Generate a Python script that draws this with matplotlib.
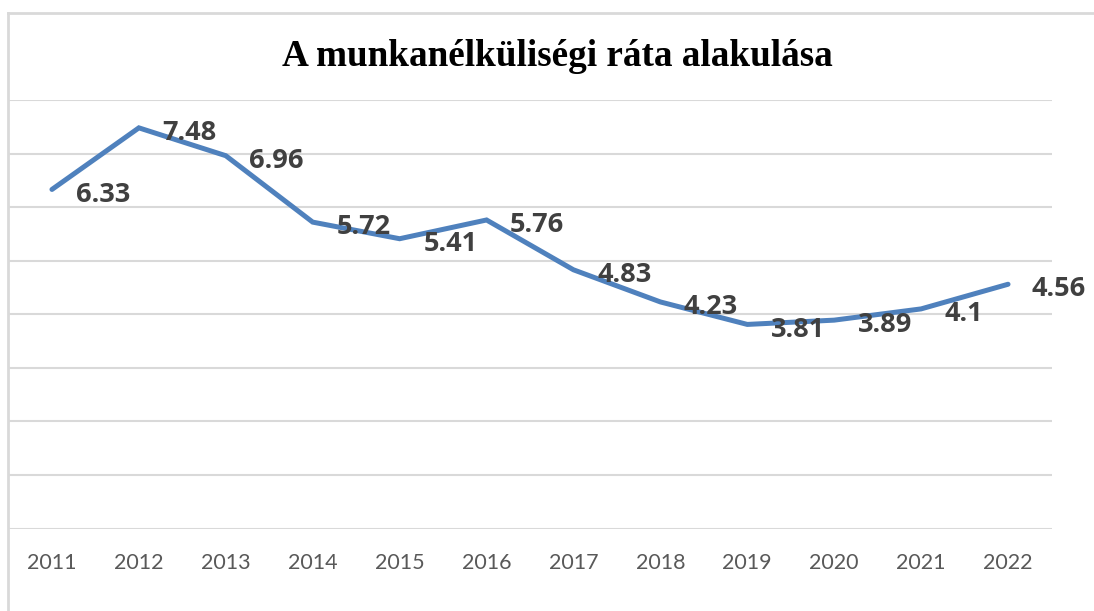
import matplotlib.pyplot as plt
from matplotlib.lines import Line2D

years = ["2011", "2012", "2013", "2014", "2015", "2016",
         "2017", "2018", "2019", "2020", "2021", "2022"]
rate = [6.33, 7.48, 6.96, 5.72, 5.41, 5.76, 4.83, 4.23, 3.81, 3.89, 4.1, 4.56]
labels = ["6.33", "7.48", "6.96", "5.72", "5.41", "5.76",
          "4.83", "4.23", "3.81", "3.89", "4.1", "4.56"]

W, H = 1094, 611
fig = plt.figure(figsize=(W / 100, H / 100), dpi=100)
ax = fig.add_axes([8.5 / W, (H - 528.5) / H, (1051.5 - 8.5) / W, (528.5 - 100) / H])

grid_col = "#d9d9d9"
x = list(range(len(years)))

ax.set_xlim(-0.5, len(years) - 0.5)
ax.set_ylim(0, 8)
ax.set_yticks(range(0, 9))
ax.yaxis.grid(True, color=grid_col, linewidth=1.5)
ax.set_axisbelow(True)
for s in ax.spines.values():
    s.set_visible(False)
ax.tick_params(axis="y", left=False, labelleft=False)
ax.tick_params(axis="x", length=0, pad=17.5)
ax.set_xticks(x)
ax.set_xticklabels(years, fontname="Lato", fontsize=15.5, color="#595959")

ax.plot(x, rate, color="#4f81bd", linewidth=3.6, solid_capstyle="round",
        solid_joinstyle="miter", clip_on=False)

for xi, v, t in zip(x, rate, labels):
    ax.annotate(t, (xi, v), xytext=(17, -1.5), textcoords="offset points",
                ha="left", va="center_baseline", fontname="Open Sans", fontweight="bold",
                fontsize=19.5, color="#404040", annotation_clip=False)

fig.text(557 / W, 1 - 57 / H, "A munkanélküliségi ráta alakulása",
         ha="center", va="center", fontname="Liberation Serif",
         fontweight="bold", fontsize=26.7, color="black")

# chart border (top and left visible)
fig.add_artist(Line2D([8 / W, 1], [1 - 13 / H, 1 - 13 / H], transform=fig.transFigure,
                      color=grid_col, linewidth=2))
fig.add_artist(Line2D([8 / W, 8 / W], [0, 1 - 13 / H], transform=fig.transFigure,
                      color=grid_col, linewidth=2))

fig.savefig("out.png", dpi=100)
